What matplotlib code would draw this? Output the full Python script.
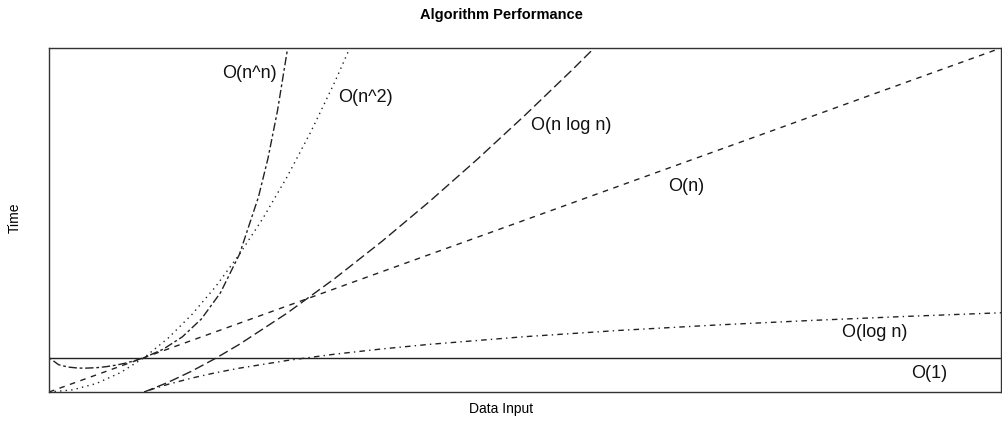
import matplotlib
matplotlib.use("Agg")
import matplotlib.pyplot as plt

plt.rcParams['font.family'] = ['Liberation Sans', 'DejaVu Sans']

# values (x = data input, y = time)
x_const = [0, 10]
y_const = [1, 1]

x_log = [1, 1.1, 1.25, 1.5, 1.75, 2, 2.5, 3, 3.5, 4, 5, 6, 7, 8, 9, 10]
y_log = [0, 0.095, 0.223, 0.405, 0.560, 0.693, 0.916, 1.099, 1.253, 1.386,
         1.609, 1.792, 1.946, 2.079, 2.197, 2.303]

x_lin = [0, 10]
y_lin = [0, 10]

x_nlogn = [1, 1.25, 1.5, 1.75, 2, 2.5, 3, 3.5, 4, 4.5, 5, 5.5, 6]
y_nlogn = [0, 0.279, 0.608, 0.979, 1.386, 2.291, 3.296, 4.385, 5.545,
           6.768, 8.047, 9.376, 10.751]

x_sq = [0, 0.25, 0.5, 0.75, 1, 1.25, 1.5, 1.75, 2, 2.25, 2.5, 2.75, 3, 3.25]
y_sq = [0, 0.0625, 0.25, 0.5625, 1, 1.5625, 2.25, 3.0625, 4, 5.0625, 6.25,
        7.5625, 9, 10.5625]

x_pow = [0, 0.1, 0.2, 0.3, 0.37, 0.5, 0.6, 0.7, 0.8, 0.9, 1.0, 1.2, 1.4,
         1.6, 1.8, 2.0, 2.2, 2.3, 2.4, 2.5, 2.6]
y_pow = [1, 0.794, 0.725, 0.697, 0.692, 0.707, 0.736, 0.779, 0.837, 0.910,
         1, 1.245, 1.602, 2.121, 2.880, 4.0, 5.667, 6.79, 8.175, 9.88, 11.99]

labels = ["O(1)", "O(log n)", "O(n)", "O(n log n)", "O(n^2)", "O(n^n)"]
label_x = [9.25, 8.67, 6.69, 5.49, 3.32, 2.11]
label_y = [0.55, 1.72, 5.96, 7.76, 8.55, 9.27]

W, H = 1003, 432
fig = plt.figure(figsize=(W / 100, H / 100), dpi=100)
ax = fig.add_axes([49 / W, (H - 392) / H, (1001 - 49) / W, (392 - 48) / H])

c = '#222222'
ax.plot(x_const, y_const, color=c, lw=1.0, linestyle='-')
ax.plot(x_log, y_log, color=c, lw=1.0, linestyle=(0, (1, 3, 4, 3)))
ax.plot(x_lin, y_lin, color=c, lw=1.0, linestyle=(0, (4, 4)))
ax.plot(x_nlogn, y_nlogn, color=c, lw=1.0, linestyle=(0, (7, 3)))
ax.plot(x_sq, y_sq, color=c, lw=1.0, linestyle=(0, (1, 3)))
ax.plot(x_pow, y_pow, color=c, lw=1.0, linestyle=(0, (2, 2, 6, 2)))

for lab, lx, ly in zip(labels, label_x, label_y):
    ax.text(lx, ly, lab, ha='center', va='center', fontsize=13, color='#111111')

ax.set_xlim(0, 10)
ax.set_ylim(0, 10)
ax.set_xticks([])
ax.set_yticks([])
for s in ax.spines.values():
    s.set_linewidth(1.0)
    s.set_color('#333333')

fig.text(501 / W, 1 - 15 / H, "Algorithm Performance", ha='center', va='center',
         fontsize=10.5, fontweight='bold')
fig.text(501 / W, 1 - 409 / H, "Data Input", ha='center', va='center', fontsize=10)
fig.text(15 / W, 1 - 218 / H, "Time", ha='center', va='center', fontsize=10,
         rotation=90)

fig.savefig("out.png", dpi=100)
